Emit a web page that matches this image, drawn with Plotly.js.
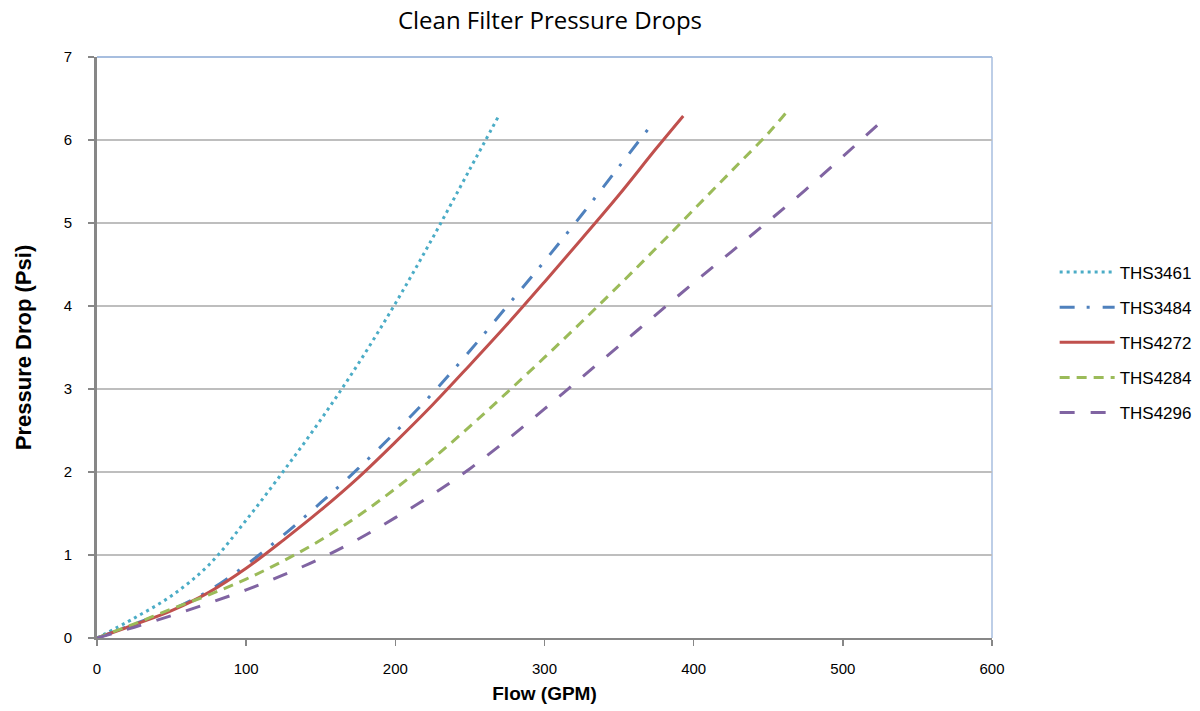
<!DOCTYPE html>
<html>
<head>
<meta charset="utf-8">
<script src="https://cdn.plot.ly/plotly-3.0.1.min.js"></script>
<style>html,body{margin:0;padding:0;background:#fff;}#chart{width:1200px;height:711px;}</style>
</head>
<body>
<div id="chart"></div>
<script>
// Data (flow in GPM, pressure drop in psi)
const seriesNames = ["THS3461", "THS3484", "THS4272", "THS4284", "THS4296"];

const flowTHS3461 = [0, 25, 50, 75, 100, 125, 150, 175, 200, 225, 250, 269];
const psiTHS3461  = [0, 0.24, 0.51, 0.88, 1.42, 2.01, 2.63, 3.30, 4.03, 4.82, 5.65, 6.28];

const flowTHS3484 = [0, 25, 50, 75, 100, 125, 150, 175, 200, 225, 250, 275, 300, 325, 350, 372];
const psiTHS3484  = [0, 0.17, 0.34, 0.57, 0.88, 1.24, 1.63, 2.04, 2.48, 2.95, 3.46, 4.00, 4.54, 5.10, 5.68, 6.19];

const flowTHS4272 = [0, 25, 50, 75, 100, 125, 150, 175, 200, 225, 250, 275, 300, 325, 350, 375, 393];
const psiTHS4272  = [0, 0.16, 0.33, 0.55, 0.84, 1.18, 1.54, 1.93, 2.36, 2.81, 3.29, 3.78, 4.29, 4.81, 5.34, 5.90, 6.29];

const flowTHS4284 = [0, 25, 50, 75, 100, 125, 150, 175, 200, 225, 250, 275, 300, 325, 350, 375, 400, 425, 450, 462];
const psiTHS4284  = [0, 0.17, 0.35, 0.52, 0.71, 0.93, 1.18, 1.47, 1.80, 2.16, 2.55, 2.96, 3.38, 3.81, 4.25, 4.70, 5.16, 5.62, 6.08, 6.33];

const flowTHS4296 = [0, 25, 50, 75, 100, 125, 150, 175, 200, 225, 250, 275, 300, 325, 350, 375, 400, 425, 450, 475, 500, 525];
const psiTHS4296  = [0, 0.13, 0.27, 0.42, 0.58, 0.76, 0.96, 1.19, 1.45, 1.73, 2.04, 2.39, 2.76, 3.14, 3.52, 3.90, 4.28, 4.65, 5.02, 5.40, 5.80, 6.21];

const xTicks = [0, 100, 200, 300, 400, 500, 600];
const yTicks = [0, 1, 2, 3, 4, 5, 6, 7];

const flows = [flowTHS3461, flowTHS3484, flowTHS4272, flowTHS4284, flowTHS4296];
const psis  = [psiTHS3461, psiTHS3484, psiTHS4272, psiTHS4284, psiTHS4296];
const colors = ["#4BACC6", "#4F81BD", "#C0504D", "#9BBB59", "#8064A2"];
const dashes = ["3px,4px", "15px,12px,3px,13px", "solid", "10px,7px", "15px,16px"];

const traces = seriesNames.map((name, i) => ({
  type: "scatter",
  mode: "lines",
  name: name,
  x: flows[i],
  y: psis[i],
  legendgroup: name,
  line: {color: colors[i], width: 3, dash: dashes[i], shape: "spline", smoothing: 1},
  hoverinfo: "x+y+name"
}));

const layout = {
  width: 1200,
  height: 711,
  paper_bgcolor: "#ffffff",
  plot_bgcolor: "#ffffff",
  margin: {l: 97, r: 208, t: 57, b: 73, autoexpand: false},
  font: {family: "Liberation Sans, Arial, sans-serif", size: 15, color: "#000"},
  title: {
    text: "Clean Filter Pressure Drops",
    font: {family: "Open Sans, sans-serif", size: 24, color: "#000"},
    x: 550 / 1200, xref: "container", xanchor: "center",
    y: 1 - 21 / 711, yref: "container", yanchor: "middle"
  },
  xaxis: {
    range: [0, 600],
    tickvals: xTicks,
    ticktext: xTicks.map(String),
    showgrid: false,
    zeroline: false,
    showline: true,
    linecolor: "#878787",
    linewidth: 2,
    ticks: "outside",
    ticklen: 6,
    tickwidth: 1.5,
    tickcolor: "#878787",
    ticklabelstandoff: 10,
    tickfont: {size: 15, color: "#000"},
    title: {text: "<b>Flow (GPM)</b>", font: {family: "Liberation Sans, Arial, sans-serif", size: 19, color: "#000"}, standoff: 11}
  },
  yaxis: {
    range: [0, 7],
    tickvals: yTicks,
    ticktext: yTicks.map(String),
    showgrid: true,
    gridcolor: "#BEBEBE",
    gridwidth: 1.5,
    zeroline: false,
    showline: true,
    linecolor: "#878787",
    linewidth: 3,
    ticks: "outside",
    ticklen: 6,
    tickwidth: 1.5,
    tickcolor: "#878787",
    ticklabelstandoff: 13,
    tickfont: {size: 15, color: "#000"},
    title: {text: "<b>Pressure Drop (Psi)</b>", font: {family: "Liberation Sans, Arial, sans-serif", size: 22, color: "#000"}, standoff: 26}
  },
  shapes: [
    {type: "line", xref: "paper", yref: "paper", x0: 0, x1: 1, y0: 1, y1: 1, line: {color: "#A7BEDF", width: 2}, layer: "below"},
    {type: "line", xref: "paper", yref: "paper", x0: 1, x1: 1, y0: 0, y1: 1, line: {color: "#A7BEDF", width: 1.5}, layer: "below"}
  ],
  legend: {
    x: 1.07, xanchor: "left",
    y: 0.66, yanchor: "top",
    traceorder: "grouped",
    tracegroupgap: 10,
    itemwidth: 55,
    font: {family: "Liberation Sans, Arial, sans-serif", size: 17, color: "#000"},
    bgcolor: "rgba(0,0,0,0)"
  },
  showlegend: true
};

Plotly.newPlot("chart", traces, layout, {displayModeBar: false, staticPlot: true});
</script>
</body>
</html>
